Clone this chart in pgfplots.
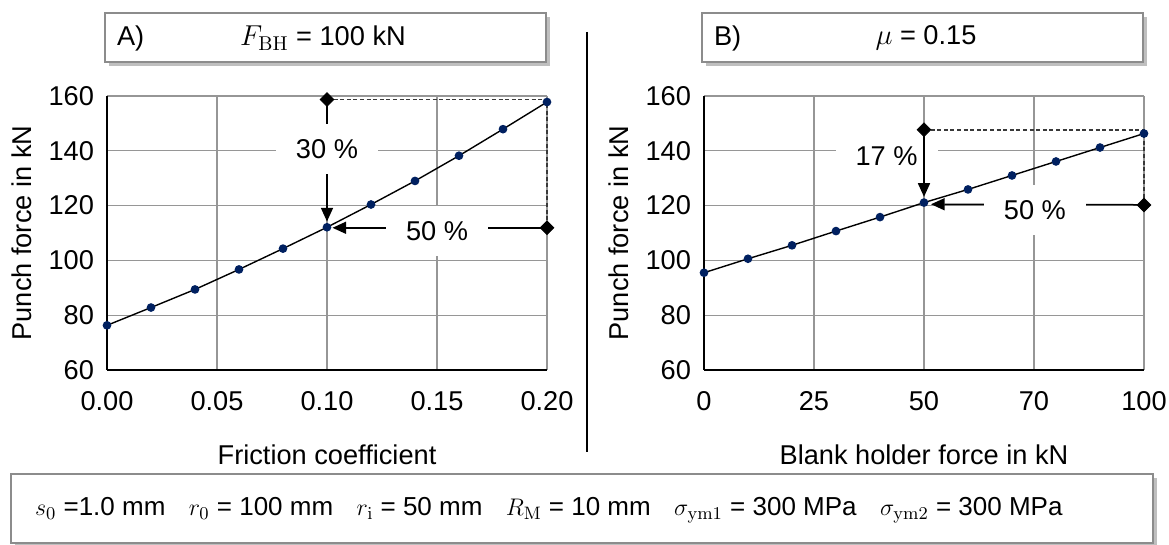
\documentclass[border=0pt]{standalone}
\usepackage[no-math]{fontspec}
\setmainfont{Liberation Sans}
\usepackage{pgfplots}
\pgfplotsset{compat=1.18}
\usetikzlibrary{arrows.meta,shadows}
\definecolor{ptblue}{RGB}{0,32,96}
\definecolor{gridgray}{RGB}{150,150,150}
\definecolor{boxgray}{RGB}{140,140,140}

\newcommand{\fnt}{\fontsize{13.6}{16}\selectfont}
\pgfplotsset{panel/.style={
    scale only axis, width=220pt, height=137pt,
    anchor=south west,
    ymin=60, ymax=160, ytick={60,80,100,120,140,160},
    axis lines=left, axis line style={-, black, line width=0.8pt},
    grid=major, grid style={gridgray, line width=0.6pt},
    major tick length=0pt,
    tick label style={font=\fnt},
    yticklabel style={xshift=-3pt},
    xticklabel style={yshift=-7pt},
    /pgf/number format/assume math mode=true,
    label style={font=\fnt},
    xlabel style={at={(axis description cs:0.5,-0.31)}, anchor=center},
    ylabel style={at={(axis description cs:-0.193,0.5)}, anchor=center},
    ylabel={Punch force in kN},
    clip=false,
  },
  curve/.style={black, line width=0.7pt, mark=*, mark size=1.8pt,
    mark options={fill=ptblue, draw=ptblue}},
  guide/.style={gray!45!black, line width=0.8pt, dash pattern=on 2pt off 1.3pt},
  dia/.style={only marks, mark=square*, mark size=2.4pt,
    mark options={fill=black, draw=black, rotate=45}},
}
\tikzset{
  arr/.style={black, line width=0.75pt, -{Triangle[length=6.8pt,width=6pt]}},
  pct/.style={fill=white, inner sep=0pt, minimum width=51pt, minimum height=25pt, font=\fnt},
}

\begin{document}
\begin{tikzpicture}[x=0.5pt, y=-0.5pt]
  \useasboundingbox (0,0) rectangle (1169,545);

  % title boxes
  \draw[boxgray, line width=0.8pt, fill=white,
    drop shadow={shadow xshift=2pt, shadow yshift=-2pt, opacity=0.5}]
    (105,13) rectangle (546,62);
  \draw[boxgray, line width=0.8pt, fill=white,
    drop shadow={shadow xshift=2pt, shadow yshift=-2pt, opacity=0.5}]
    (702,13) rectangle (1143,62);
  \node[anchor=west, font=\fnt] at (110,38) {A)};
  \node[font=\fnt] at (323,38) {$F_{\mathrm{BH}}$ = 100 kN};
  \node[anchor=west, font=\fnt] at (707,38) {B)};
  \node[font=\fnt] at (926,38) {$\mu$ = 0.15};

  % separator
  \draw[black, line width=0.6pt] (587,32) -- (587,452);

  % panel A
  \begin{axis}[panel, at={(53.5pt,-185pt)},
      xmin=0, xmax=0.2,
      xtick={0,0.05,0.1,0.15,0.2},
      xticklabels={0.00,0.05,0.10,0.15,0.20},
      xlabel={Friction coefficient}]
    \addplot[guide] coordinates {(0.1,158.7) (0.2,158.7) (0.2,111.9)};
    \addplot[curve] coordinates {
      (0.00,76.3) (0.02,82.8) (0.04,89.4) (0.06,96.7) (0.08,104.3) (0.10,112.1)
      (0.12,120.4) (0.14,129.0) (0.16,138.2) (0.18,147.9) (0.20,157.8)};
    \draw[arr] (axis cs:0.1,158.7) -- (axis cs:0.1,114.2);
    \draw[arr] (axis cs:0.2,111.9) -- (axis cs:0.1025,111.9);
    \node[pct] at (axis cs:0.1,140.5) {30 \%};
    \node[pct] at (axis cs:0.15,110.6) {50 \%};
    \addplot[dia] coordinates {(0.1,158.7) (0.2,111.9)};
  \end{axis}

  % panel B
  \begin{axis}[panel, at={(352pt,-185pt)},
      xmin=0, xmax=100,
      xtick={0,25,50,75,100},
      xticklabels={0,25,50,70,100},
      xlabel={Blank holder force in kN}]
    \addplot[guide] coordinates {(50,147.7) (100,147.7) (100,120.2)};
    \addplot[curve] coordinates {
      (0,95.5) (10,100.6) (20,105.5) (30,110.7) (40,115.8) (50,121.1)
      (60,125.9) (70,131.0) (80,136.1) (90,141.2) (100,146.3)};
    \node[pct] at (axis cs:41.5,138) {17 \%};
    \draw[arr] (axis cs:50,147.7) -- (axis cs:50,123.2);
    \draw[arr] (axis cs:100,120.3) -- (axis cs:51.6,120.5);
    \node[pct] at (axis cs:75.2,118.4) {50 \%};
    \addplot[dia] coordinates {(50,147.7) (100,120.2)};
  \end{axis}

  % parameter box
  \draw[boxgray, line width=0.8pt, fill=white,
    drop shadow={shadow xshift=2pt, shadow yshift=-2pt, opacity=0.5}]
    (11,474) rectangle (1153,543);
  \node[anchor=west, font=\fontsize{13}{15}\selectfont] at (28,510)
    {$s_0$ =1.0 mm\hspace{0.9em}$r_0$ = 100 mm\hspace{0.9em}$r_{\mathrm{i}}$ = 50 mm\hspace{0.9em}%
     $R_{\mathrm{M}}$ = 10 mm\hspace{0.9em}$\sigma_{\mathrm{ym1}}$ = 300 MPa\hspace{0.9em}%
     $\sigma_{\mathrm{ym2}}$ = 300 MPa};
\end{tikzpicture}
\end{document}
